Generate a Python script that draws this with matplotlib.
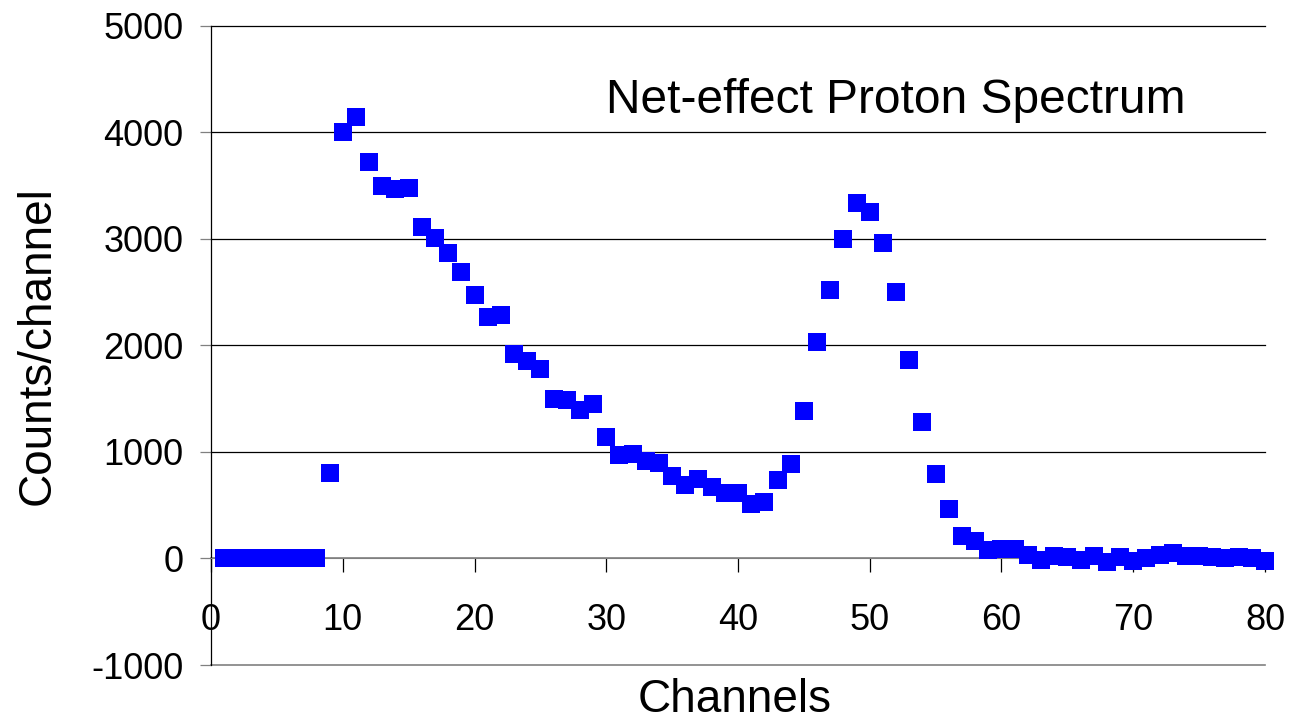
import matplotlib
matplotlib.use("Agg")
from matplotlib import pyplot as plt

plt.rcParams['font.family'] = ['Liberation Sans', 'DejaVu Sans']
plt.rcParams['axes.unicode_minus'] = False

# channel numbers and net counts
channels = list(range(1, 81))
counts = [0, 0, 0, 0, 0, 0, 0, 0, 800, 4000,
          4145, 3720, 3495, 3465, 3480, 3110, 3010, 2865, 2685, 2470,
          2265, 2290, 1920, 1850, 1780, 1495, 1485, 1395, 1450, 1145,
          975, 985, 915, 900, 775, 690, 745, 670, 615, 615,
          515, 530, 740, 890, 1380, 2030, 2525, 2995, 3335, 3250,
          2965, 2500, 1865, 1280, 790, 460, 210, 160, 80, 85,
          85, 35, -10, 20, 10, -10, 20, -30, 10, -25,
          5, 35, 50, 25, 25, 10, 0, 10, 5, -25]

xticks = [0, 10, 20, 30, 40, 50, 60, 70, 80]
yticks = [-1000, 0, 1000, 2000, 3000, 4000, 5000]

fig = plt.figure(figsize=(12.9, 7.23), dpi=100)
ax = fig.add_axes([0.1636, 0.0802, 0.817, 0.884])

ax.plot(channels, counts, 's', color='#0000FF', markersize=12.6,
        markeredgewidth=0, clip_on=False, zorder=5)

ax.set_xlim(0, 80)
ax.set_ylim(-1000, 5000)
ax.set_xticks(xticks)
ax.set_yticks(yticks)

''' horizontal grid, black above zero, grey at the bottom '''
ax.yaxis.grid(True, color='black', linewidth=0.9)
for val, gl in zip(yticks, ax.get_ygridlines()):
    gl.set_clip_on(False)
    if val <= 0:
        gl.set_color('#808080')
        gl.set_linewidth(1.2)

ax.spines['top'].set_visible(False)
ax.spines['right'].set_visible(False)
ax.spines['bottom'].set_position(('data', 0))
ax.spines['bottom'].set_color('#808080')
ax.spines['left'].set_color('black')
ax.spines['left'].set_linewidth(0.9)

ax.tick_params(axis='x', direction='out', length=10, width=0.9,
               pad=22, labelsize=26, color='black')
ax.tick_params(axis='y', direction='out', length=8, width=0.9,
               pad=12, labelsize=26, color='#808080')

ax.set_ylabel("Counts/channel", fontsize=33)
ax.yaxis.set_label_coords(-0.1435, 0.5)
fig.text(735 / 1290, 1 - 700 / 723, "Channels", fontsize=33,
         ha='center', va='center')

ax.text(30, 4300, "Net-effect Proton Spectrum", fontsize=34.5,
        ha='left', va='center')

fig.savefig("out.png", dpi=100)
